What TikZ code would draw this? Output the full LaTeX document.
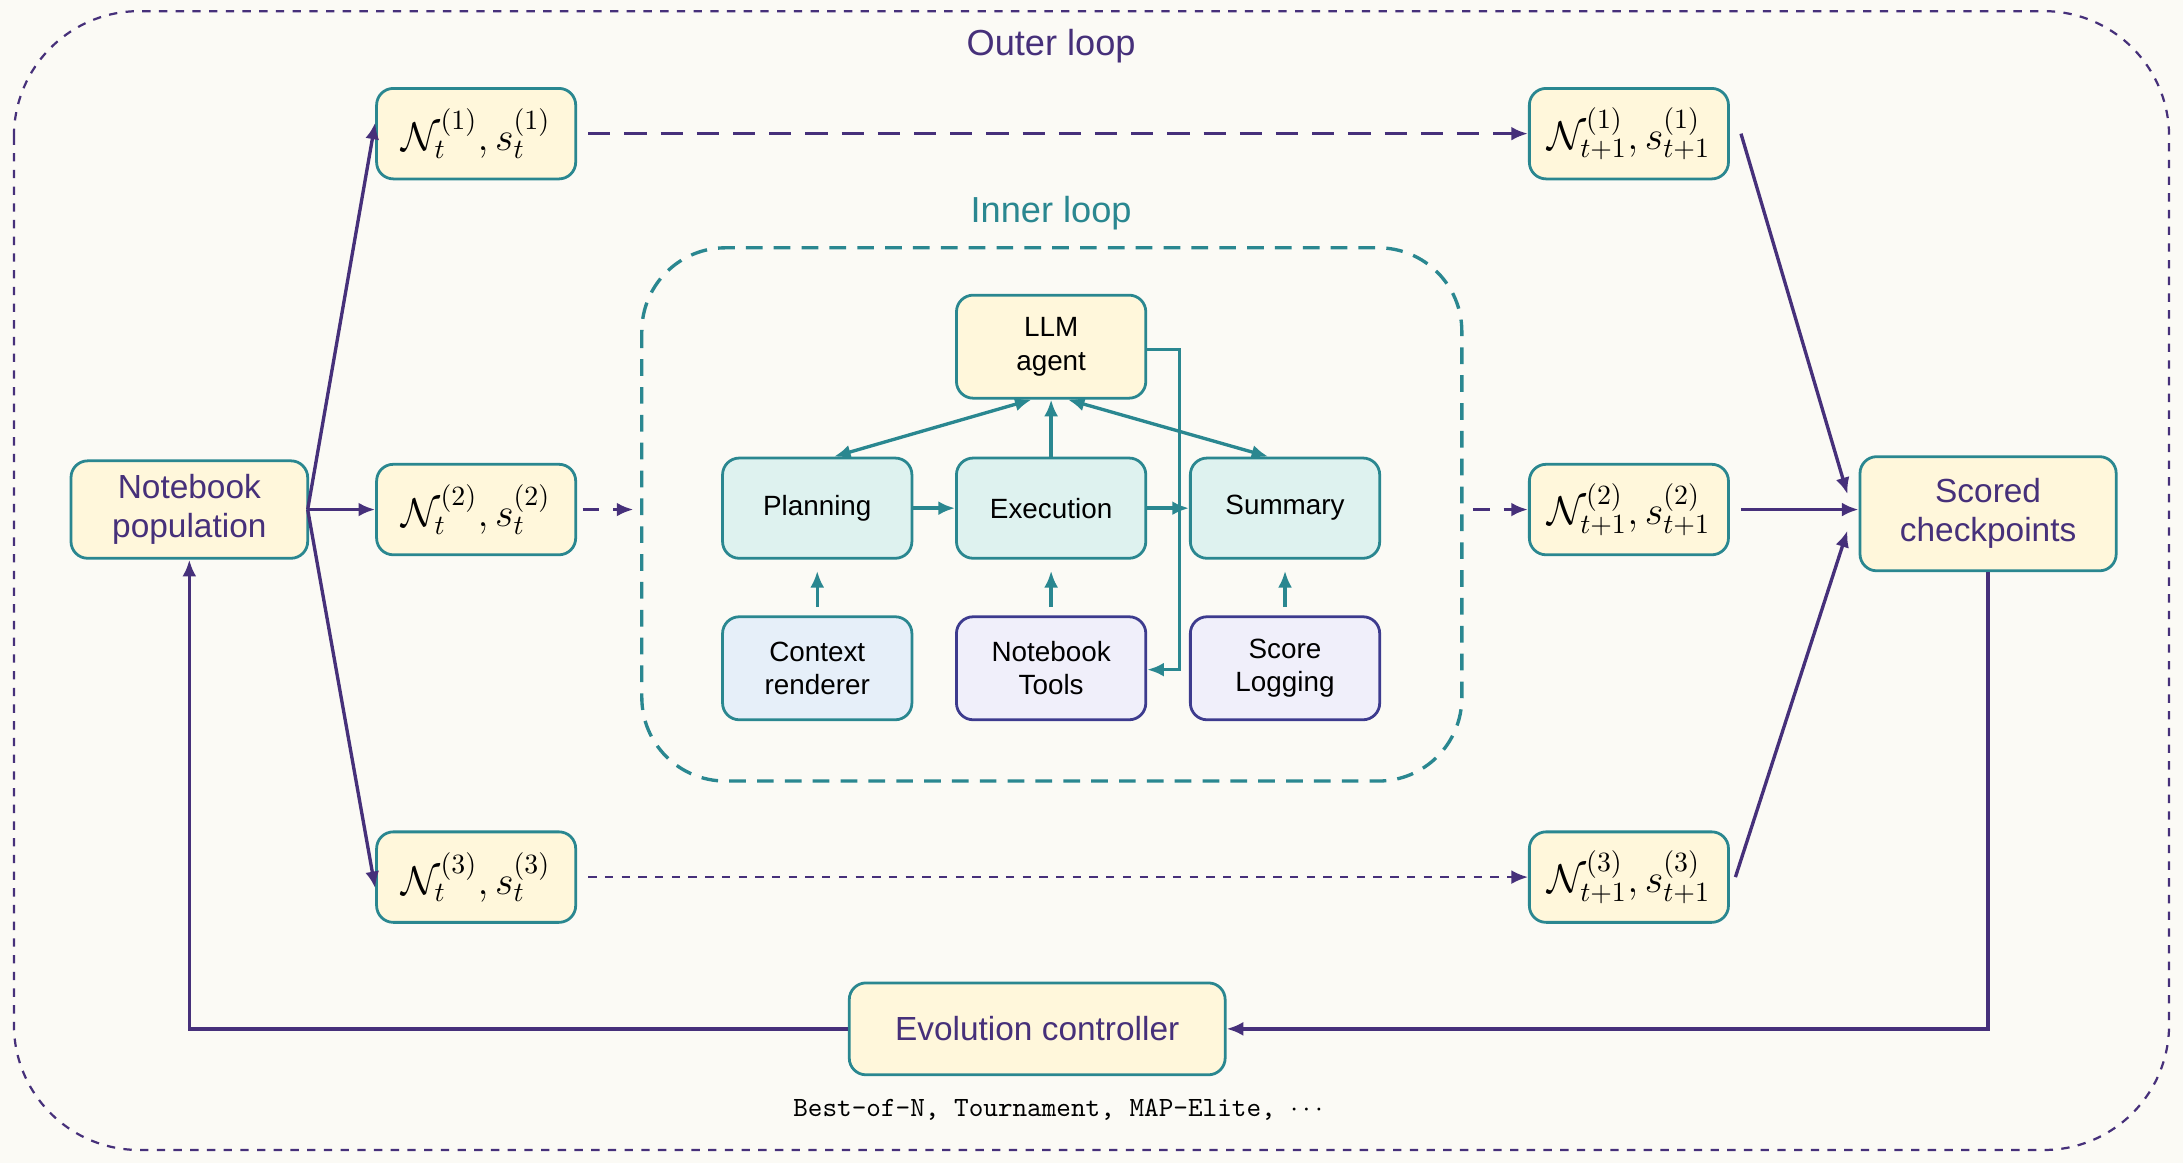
\documentclass[tikz,border=0pt]{standalone}
\usepackage{fontspec}
\setmainfont{Liberation Sans}
\usetikzlibrary{arrows.meta,positioning}
\definecolor{bgcol}{HTML}{FBFAF5}
\definecolor{outercol}{HTML}{46307A}
\definecolor{innercol}{HTML}{2A8790}
\definecolor{yellowfill}{HTML}{FFF7DB}
\definecolor{tealfill}{HTML}{DEF2EF}
\definecolor{bluefill}{HTML}{E6EFF9}
\definecolor{lavfill}{HTML}{F0EFFA}
\definecolor{lavdraw}{HTML}{3D3B8E}
\tikzset{
  box/.style={draw=innercol, line width=1pt, rounded corners=6pt, align=center},
  stateb/.style={box, fill=yellowfill, minimum width=71.5pt, minimum height=32.5pt, inner sep=1pt, font=\fontsize{14}{16}\selectfont},
  bigb/.style={box, fill=yellowfill, text=outercol, font=\fontsize{12}{14}\selectfont},
  stage/.style={box, fill=tealfill, minimum width=68pt, minimum height=36pt, font=\fontsize{10}{12}\selectfont},
  outer/.style={outercol, line width=1.2pt, -{Latex[length=6pt,width=5pt]}},
  inner/.style={innercol, line width=1.2pt, -{Latex[length=6pt,width=5pt]}}
}
\begin{document}
\begin{tikzpicture}[x=0.5pt,y=-0.5pt]
\fill[bgcol] (0,0) rectangle (1568,835);
\useasboundingbox (0,0) rectangle (1568,835);
% loops
\draw[outercol, dashed, line width=0.8pt, rounded corners=45pt] (10,8) rectangle (1558,826);
\node[text=outercol, font=\fontsize{13}{15}\selectfont] (outerlbl) at (755,33) {Outer loop};
\draw[innercol, dash pattern=on 6pt off 4pt, line width=1.2pt, rounded corners=30pt] (461,178) rectangle (1050,561);
\node[text=innercol, font=\fontsize{13}{15}\selectfont] (innerlbl) at (755,153) {Inner loop};
% outer nodes
\node[bigb, minimum width=85pt, minimum height=35pt] (pop) at (136,366) {Notebook\\population};
\node[stateb] (a1) at (342,96) {$\mathcal{N}_t^{(1)}, s_t^{(1)}$};
\node[stateb] (a2) at (342,366) {$\mathcal{N}_t^{(2)}, s_t^{(2)}$};
\node[stateb] (a3) at (342,630) {$\mathcal{N}_t^{(3)}, s_t^{(3)}$};
\node[stateb] (b1) at (1170,96) {$\mathcal{N}_{t+1}^{(1)}, s_{t+1}^{(1)}$};
\node[stateb] (b2) at (1170,366) {$\mathcal{N}_{t+1}^{(2)}, s_{t+1}^{(2)}$};
\node[stateb] (b3) at (1170,630) {$\mathcal{N}_{t+1}^{(3)}, s_{t+1}^{(3)}$};
\node[bigb, minimum width=92pt, minimum height=41pt] (score) at (1428,369) {Scored\\checkpoints};
\node[bigb, minimum width=135pt, minimum height=33pt] (evo) at (745,739) {Evolution controller};
\node[font=\ttfamily\fontsize{10}{12}\selectfont] (strat) at (760,797) {Best-of-N, Tournament, MAP-Elite, $\cdots$};
% inner nodes
\node[box, fill=yellowfill, minimum width=68pt, minimum height=37pt, font=\fontsize{10}{12}\selectfont] (llm) at (755,249) {LLM\\agent};
\node[stage] (plan) at (587,365) {Planning};
\node[stage] (exec) at (755,365) {Execution};
\node[stage] (summ) at (923,365) {Summary};
\node[box, fill=bluefill, minimum width=68pt, minimum height=37pt, font=\fontsize{10}{12}\selectfont] (ctx) at (587,480) {Context\\renderer};
\node[box, draw=lavdraw, fill=lavfill, minimum width=68pt, minimum height=37pt, font=\fontsize{10}{12}\selectfont] (tools) at (755,480) {Notebook\\Tools};
\node[box, draw=lavdraw, fill=lavfill, minimum width=68pt, minimum height=37pt, font=\fontsize{10}{12}\selectfont] (log) at (923,480) {Score\\Logging};
\coordinate (pr) at (221,366);
\coordinate (ileft) at (455,366);
\coordinate (iright) at (1058,366);
% inner connectors
\draw[inner, {Latex[length=6pt,width=5pt]}-{Latex[length=6pt,width=5pt]}] ([xshift=6pt]plan.north) -- ([xshift=-7pt]llm.south);
\draw[inner, {Latex[length=6pt,width=5pt]}-{Latex[length=6pt,width=5pt]}] ([xshift=-6pt]summ.north) -- ([xshift=6pt]llm.south);
\draw[inner] (exec) -- (llm);
\draw[inner] (plan) -- (exec);
\draw[inner] (exec) -- (summ);
\draw[inner] ([yshift=3pt]ctx.north) -- ([yshift=-4pt]plan.south);
\draw[inner] ([yshift=3pt]tools.north) -- ([yshift=-4pt]exec.south);
\draw[inner] ([yshift=3pt]log.north) -- ([yshift=-4pt]summ.south);
\draw[inner] ([yshift=-1pt]llm.east) -| (847,481) -- (tools.east |- 0,481);
% outer connectors
\draw[outer] (pr) -- ([yshift=4pt]a1.west);
\draw[outer] (pr) -- (a2);
\draw[outer] (pr) -- ([yshift=-4pt]a3.west);
\draw[outer, dash pattern=on 8pt off 5pt] ([xshift=4pt]a1.east) -- (b1);
\draw[outer, dash pattern=on 6pt off 5pt] ([xshift=2pt]a2.east) -- (ileft);
\draw[outer, dash pattern=on 6pt off 5pt] (iright) -- (b2);
\draw[outer, dashed, line width=0.8pt] ([xshift=4pt]a3.east) -- (b3);
\draw[outer] ([xshift=4pt]b1.east) -- ([xshift=-4pt,yshift=7pt]score.west);
\draw[outer] ([xshift=4pt]b2.east) -- (score.west |- b2);
\draw[outer] ([xshift=2pt]b3.east) -- ([xshift=-4pt,yshift=-6pt]score.west);
\draw[outer] (score.south) |- (evo);
\draw[outer] (evo) -| (pop);
\end{tikzpicture}
\end{document}
